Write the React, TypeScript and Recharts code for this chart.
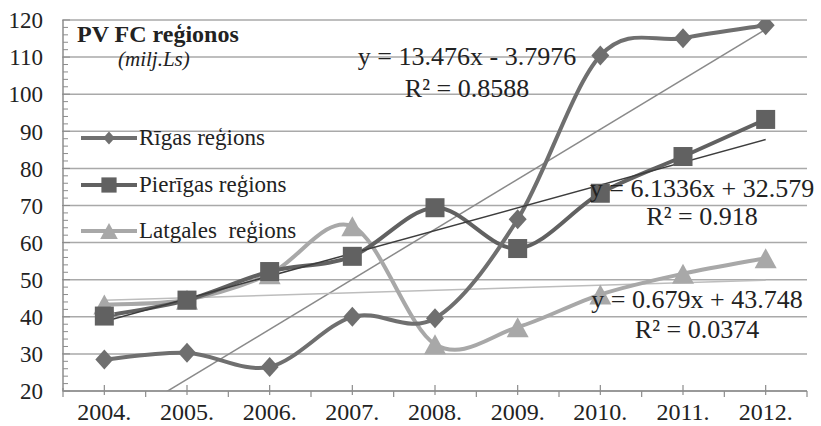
import {
  CartesianGrid,
  Legend,
  Line,
  LineChart,
  ReferenceLine,
  XAxis,
  YAxis,
} from "recharts";

const years = ["2004.", "2005.", "2006.", "2007.", "2008.", "2009.", "2010.", "2011.", "2012."];
const rigas = [28.5, 30.3, 26.5, 40.0, 39.6, 66.3, 110.4, 115.1, 118.6];
const pierigas = [40.2, 44.5, 52.2, 56.3, 69.4, 58.4, 73.3, 83.2, 93.2];
const latgales = [43.3, 44.6, 51.5, 64.4, 32.6, 37.2, 46.0, 51.6, 55.8];

// trend line ends, taken from the printed equations (x = 1 and x = 9)
const trendStart = [9.68, 38.71, 44.43];
const trendEnd = [117.49, 87.78, 49.86];

const yTicks = [20, 30, 40, 50, 60, 70, 80, 90, 100, 110, 120];
const yMinor = Array.from({ length: 51 }, (_, i) => 20 + i * 2);

const W = 821;
const H = 426;
const M = { top: 20, right: 14, left: 5, bottom: 0 };
const Y_W = 58;
const HALF_BAND = (W - M.left - Y_W - M.right) / years.length / 2;

const FONT = "'Liberation Serif', 'Times New Roman', serif";
const AXIS = "#8c8c8c";
const C_RIGAS = "#6f6f6f";
const C_PIER = "#616161";
const C_LAT = "#a8a8a8";

const data = years.map((year, i) => ({
  year,
  rigas: rigas[i],
  pierigas: pierigas[i],
  latgales: latgales[i],
}));

// Excel-like smoothing (Catmull-Rom style bezier)
function excelCurve(context: any) {
  let pts: number[][] = [];
  return {
    areaStart() {},
    areaEnd() {},
    lineStart() {
      pts = [];
    },
    point(x: number, y: number) {
      pts.push([+x, +y]);
    },
    lineEnd() {
      if (!pts.length) return;
      context.moveTo(pts[0][0], pts[0][1]);
      const t = 1 / 6;
      for (let i = 0; i < pts.length - 1; i++) {
        const p0 = pts[i - 1] || pts[i];
        const p1 = pts[i];
        const p2 = pts[i + 1];
        const p3 = pts[i + 2] || p2;
        context.bezierCurveTo(
          p1[0] + (p2[0] - p0[0]) * t,
          p1[1] + (p2[1] - p0[1]) * t,
          p2[0] - (p3[0] - p1[0]) * t,
          p2[1] - (p3[1] - p1[1]) * t,
          p2[0],
          p2[1],
        );
      }
    },
  };
}

function Diamond({ cx, cy, fill, s = 1 }: any) {
  if (cx == null || cy == null) return null;
  const w = 9 * s;
  const h = 10 * s;
  return (
    <polygon
      points={`${cx},${cy - h} ${cx + w},${cy} ${cx},${cy + h} ${cx - w},${cy}`}
      fill={fill}
    />
  );
}

function Square({ cx, cy, fill, s = 1 }: any) {
  if (cx == null || cy == null) return null;
  const r = 9.5 * s;
  return <rect x={cx - r} y={cy - r} width={r * 2} height={r * 2} fill={fill} />;
}

function Triangle({ cx, cy, fill, s = 1 }: any) {
  if (cx == null || cy == null) return null;
  const w = 11 * s;
  const h = 10 * s;
  return (
    <polygon points={`${cx},${cy - h} ${cx + w},${cy + h} ${cx - w},${cy + h}`} fill={fill} />
  );
}

function YTick({ x, y, payload }: any) {
  const v = payload.value;
  const major = v % 10 === 0;
  return (
    <g>
      <line x1={x - (major ? 1 : 0)} x2={x + (major ? 7 : 5)} y1={y} y2={y} stroke={AXIS} strokeWidth={1} />
      {major && (
        <text x={x - 20} y={y} dy="0.36em" textAnchor="end" fontFamily={FONT} fontSize={23} fill="#222">
          {v}
        </text>
      )}
    </g>
  );
}

function XTick({ x, y, payload, index }: any) {
  return (
    <g stroke={AXIS} strokeWidth={1.2}>
      <line x1={x} x2={x} y1={y - 6} y2={y + 4} />
      <line x1={x + HALF_BAND} x2={x + HALF_BAND} y1={y} y2={y + 6} />
      {index === 0 && <line x1={x - HALF_BAND} x2={x - HALF_BAND} y1={y - 3} y2={y + 6} />}
      <text x={x} y={y + 29} textAnchor="middle" fontFamily={FONT} fontSize={24} fill="#222" stroke="none">
        {payload.value}
      </text>
    </g>
  );
}

const legendItems = [
  { name: "Rīgas reģions", color: C_RIGAS, Marker: Diamond, s: 0.65 },
  { name: "Pierīgas reģions", color: C_PIER, Marker: Square, s: 0.8 },
  { name: "Latgales  reģions", color: C_LAT, Marker: Triangle, s: 0.8 },
];

function LegendBox() {
  return (
    <div style={{ fontFamily: FONT, fontSize: 23, color: "#222" }}>
      {legendItems.map(({ name, color, Marker, s }) => (
        <div key={name} style={{ display: "flex", alignItems: "center", height: 46.5, whiteSpace: "pre" }}>
          <svg width={58} height={24} style={{ marginRight: 1 }}>
            <line x1={1} x2={57} y1={12} y2={12} stroke={color} strokeWidth={4} />
            <Marker cx={29} cy={12} fill={color} s={s} />
          </svg>
          <span>{name}</span>
        </div>
      ))}
    </div>
  );
}

const txt = { fontFamily: FONT, fill: "#222" } as const;

export default function App() {
  return (
    <div style={{ position: "fixed", left: 0, top: 0, width: W, height: H, background: "#fff" }}>
      <LineChart width={W} height={H} data={data} margin={M}>
        <CartesianGrid horizontal vertical={false} horizontalValues={yTicks} stroke="#a9a9a9" strokeWidth={1.5} />
        <XAxis
          dataKey="year"
          interval={0}
          height={35}
          padding={{ left: HALF_BAND, right: HALF_BAND }}
          tickSize={0}
          tickMargin={0}
          tickLine={false}
          axisLine={{ stroke: AXIS, strokeWidth: 1.5 }}
          tick={<XTick />}
        />
        <YAxis
          domain={[20, 120]}
          ticks={yMinor}
          interval={0}
          width={Y_W}
          allowDataOverflow
          tickSize={0}
          tickMargin={0}
          tickLine={false}
          axisLine={{ stroke: AXIS, strokeWidth: 1.5 }}
          tick={<YTick />}
        />
        <ReferenceLine
          segment={[{ x: years[0], y: trendStart[0] }, { x: years[8], y: trendEnd[0] }]}
          stroke="#8a8a8a"
          strokeWidth={1.5}
          ifOverflow="hidden"
        />
        <ReferenceLine
          segment={[{ x: years[0], y: trendStart[2] }, { x: years[8], y: trendEnd[2] }]}
          stroke="#bdbdbd"
          strokeWidth={1.5}
          ifOverflow="hidden"
        />
        <Line
          dataKey="latgales"
          name="Latgales  reģions"
          type={excelCurve as any}
          stroke={C_LAT}
          strokeWidth={4}
          dot={(p: any) => <Triangle key={p.index} cx={p.cx} cy={p.cy} fill={C_LAT} />}
          activeDot={false}
          isAnimationActive={false}
        />
        <Line
          dataKey="pierigas"
          name="Pierīgas reģions"
          type={excelCurve as any}
          stroke={C_PIER}
          strokeWidth={4}
          dot={(p: any) => <Square key={p.index} cx={p.cx} cy={p.cy} fill={C_PIER} />}
          activeDot={false}
          isAnimationActive={false}
        />
        <Line
          dataKey="rigas"
          name="Rīgas reģions"
          type={excelCurve as any}
          stroke={C_RIGAS}
          strokeWidth={4}
          dot={(p: any) => <Diamond key={p.index} cx={p.cx} cy={p.cy} fill={C_RIGAS} />}
          activeDot={false}
          isAnimationActive={false}
        />
        <ReferenceLine
          segment={[{ x: years[0], y: trendStart[1] }, { x: years[8], y: trendEnd[1] }]}
          stroke="#3d3d3d"
          strokeWidth={1.5}
          ifOverflow="hidden"
        />
        <Legend
          layout="vertical"
          align="center"
          verticalAlign="middle"
          content={() => <LegendBox />}
          wrapperStyle={{ left: 80, top: 115, width: "auto", height: "auto" }}
        />
      </LineChart>
      <svg width={W} height={H} style={{ position: "absolute", left: 0, top: 0, pointerEvents: "none" }}>
        <text x={77} y={42} {...txt} fontSize={24} fontWeight="bold">PV FC reģionos</text>
        <text x={118} y={66} {...txt} fontSize={21} fontStyle="italic">(milj.Ls)</text>
        <text x={467} y={65} {...txt} fontSize={26} textAnchor="middle">y = 13.476x - 3.7976</text>
        <text x={467} y={97} {...txt} fontSize={26} textAnchor="middle">R² = 0.8588</text>
        <text x={702} y={197} {...txt} fontSize={26} textAnchor="middle">y = 6.1336x + 32.579</text>
        <text x={702} y={225} {...txt} fontSize={26} textAnchor="middle">R² = 0.918</text>
        <text x={697} y={308} {...txt} fontSize={26} textAnchor="middle">y = 0.679x + 43.748</text>
        <text x={697} y={338} {...txt} fontSize={26} textAnchor="middle">R² = 0.0374</text>
      </svg>
    </div>
  );
}
